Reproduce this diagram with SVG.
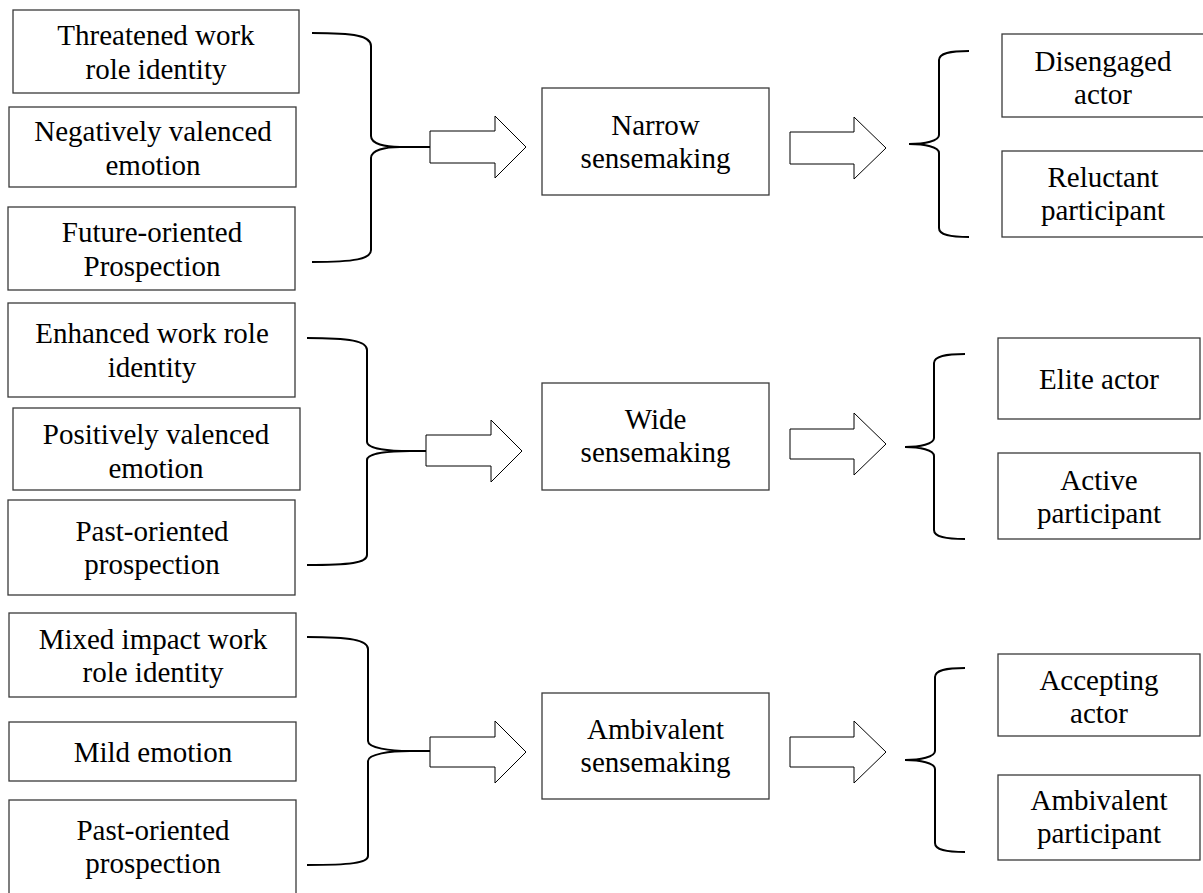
<svg xmlns="http://www.w3.org/2000/svg" width="1203" height="893" viewBox="0 0 1203 893">
<style>
.box{fill:#fff;stroke:#3a3a3a;stroke-width:1.3}
.t{font-family:'Liberation Serif','Times New Roman',Tinos,'DejaVu Serif',serif;font-size:29px;fill:#000;text-anchor:middle}
.br{fill:none;stroke:#000;stroke-width:2}
.ba{fill:#fff;stroke:#000;stroke-width:1}
</style>
<rect width="1203" height="893" fill="#fff"/>
<g id="connectors">
<path class="br" d="M312,33 C355,33 371,36 371,46 L371,136 C371,144 385,147 400,147 C385,147 371,150 371,158 L371,250 C371,259 355,262 312,262 M400,147 L430,147"/>
<path class="br" d="M307,338 C350,338 367,341 367,350 L367,442 C367,449 390,451 410,451 C390,451 367,453 367,460 L367,555 C367,563 350,565 307,565 M410,451 L426,451"/>
<path class="br" d="M307,637 C350,637 368,640 368,649 L368,741 C368,748 390,751 410,751 C390,751 368,754 368,761 L368,856 C368,863 350,865 307,865 M410,751 L430,751"/>
<path class="br" d="M969,51 C950,51 939,53 939,60 L939,135 C939,141 925,144 909,144 C925,144 939,147 939,153 L939,228 C939,235 950,237 969,237"/>
<path class="br" d="M965,354 C946,354 934,356 934,363 L934,438 C934,444 920,447 905,447 C920,447 934,450 934,456 L934,530 C934,537 946,539 965,539"/>
<path class="br" d="M965,668 C946,668 935,670 935,677 L935,751 C935,757 920,760 905,760 C920,760 935,763 935,769 L935,843 C935,850 946,852 965,852"/>
<polygon class="ba" points="430,131 495,131 495,116 526,147 495,178 495,163 430,163"/>
<polygon class="ba" points="790,132 854,132 854,117 886,148 854,179 854,164 790,164"/>
<polygon class="ba" points="426,435 491,435 491,420 522,451 491,482 491,466 426,466"/>
<polygon class="ba" points="790,429 854,429 854,413 886,444 854,475 854,459 790,459"/>
<polygon class="ba" points="430,737 495,737 495,721 526,752 495,783 495,767 430,767"/>
<polygon class="ba" points="790,737 854,737 854,721 886,752 854,783 854,767 790,767"/>
</g>
<g id="threatened"><rect class="box" x="13" y="10" width="286" height="83"/><text class="t" x="156" y="45">Threatened work</text><text class="t" x="156" y="79">role identity</text></g>
<g id="negatively"><rect class="box" x="9" y="107" width="287" height="80"/><text class="t" x="153" y="141">Negatively valenced</text><text class="t" x="153" y="175">emotion</text></g>
<g id="future"><rect class="box" x="8" y="207" width="287" height="83"/><text class="t" x="152" y="242">Future-oriented</text><text class="t" x="152" y="276">Prospection</text></g>
<g id="enhanced"><rect class="box" x="8" y="303" width="287" height="94"/><text class="t" x="152" y="343">Enhanced work role</text><text class="t" x="152" y="377">identity</text></g>
<g id="positively"><rect class="box" x="13" y="408" width="287" height="82"/><text class="t" x="156" y="444">Positively valenced</text><text class="t" x="156" y="478">emotion</text></g>
<g id="past1"><rect class="box" x="8" y="500" width="287" height="95"/><text class="t" x="152" y="541">Past-oriented</text><text class="t" x="152" y="574">prospection</text></g>
<g id="mixed"><rect class="box" x="9" y="613" width="287" height="84"/><text class="t" x="153" y="649">Mixed impact work</text><text class="t" x="153" y="682">role identity</text></g>
<g id="mild"><rect class="box" x="9" y="722" width="287" height="59"/><text class="t" x="153" y="762">Mild emotion</text></g>
<g id="past2"><rect class="box" x="9" y="800" width="287" height="100"/><text class="t" x="153" y="840">Past-oriented</text><text class="t" x="153" y="873">prospection</text></g>
<g id="narrow"><rect class="box" x="542" y="88" width="227" height="107"/><text class="t" x="655.5" y="135">Narrow</text><text class="t" x="655.5" y="168">sensemaking</text></g>
<g id="wide"><rect class="box" x="542" y="383" width="227" height="107"/><text class="t" x="655.5" y="429">Wide</text><text class="t" x="655.5" y="462">sensemaking</text></g>
<g id="ambivalentsm"><rect class="box" x="542" y="693" width="227" height="106"/><text class="t" x="655.5" y="739">Ambivalent</text><text class="t" x="655.5" y="772">sensemaking</text></g>
<g id="disengaged"><rect class="box" x="1002" y="34" width="210" height="83"/><text class="t" x="1103" y="71">Disengaged</text><text class="t" x="1103" y="104">actor</text></g>
<g id="reluctant"><rect class="box" x="1002" y="151" width="210" height="86"/><text class="t" x="1103" y="187">Reluctant</text><text class="t" x="1103" y="220">participant</text></g>
<g id="elite"><rect class="box" x="998" y="338" width="202" height="81"/><text class="t" x="1099" y="389">Elite actor</text></g>
<g id="active"><rect class="box" x="998" y="453" width="202" height="86"/><text class="t" x="1099" y="490">Active</text><text class="t" x="1099" y="523">participant</text></g>
<g id="accepting"><rect class="box" x="998" y="654" width="202" height="82"/><text class="t" x="1099" y="690">Accepting</text><text class="t" x="1099" y="723">actor</text></g>
<g id="ambivalentp"><rect class="box" x="998" y="775" width="202" height="85"/><text class="t" x="1099" y="810">Ambivalent</text><text class="t" x="1099" y="843">participant</text></g>
</svg>
